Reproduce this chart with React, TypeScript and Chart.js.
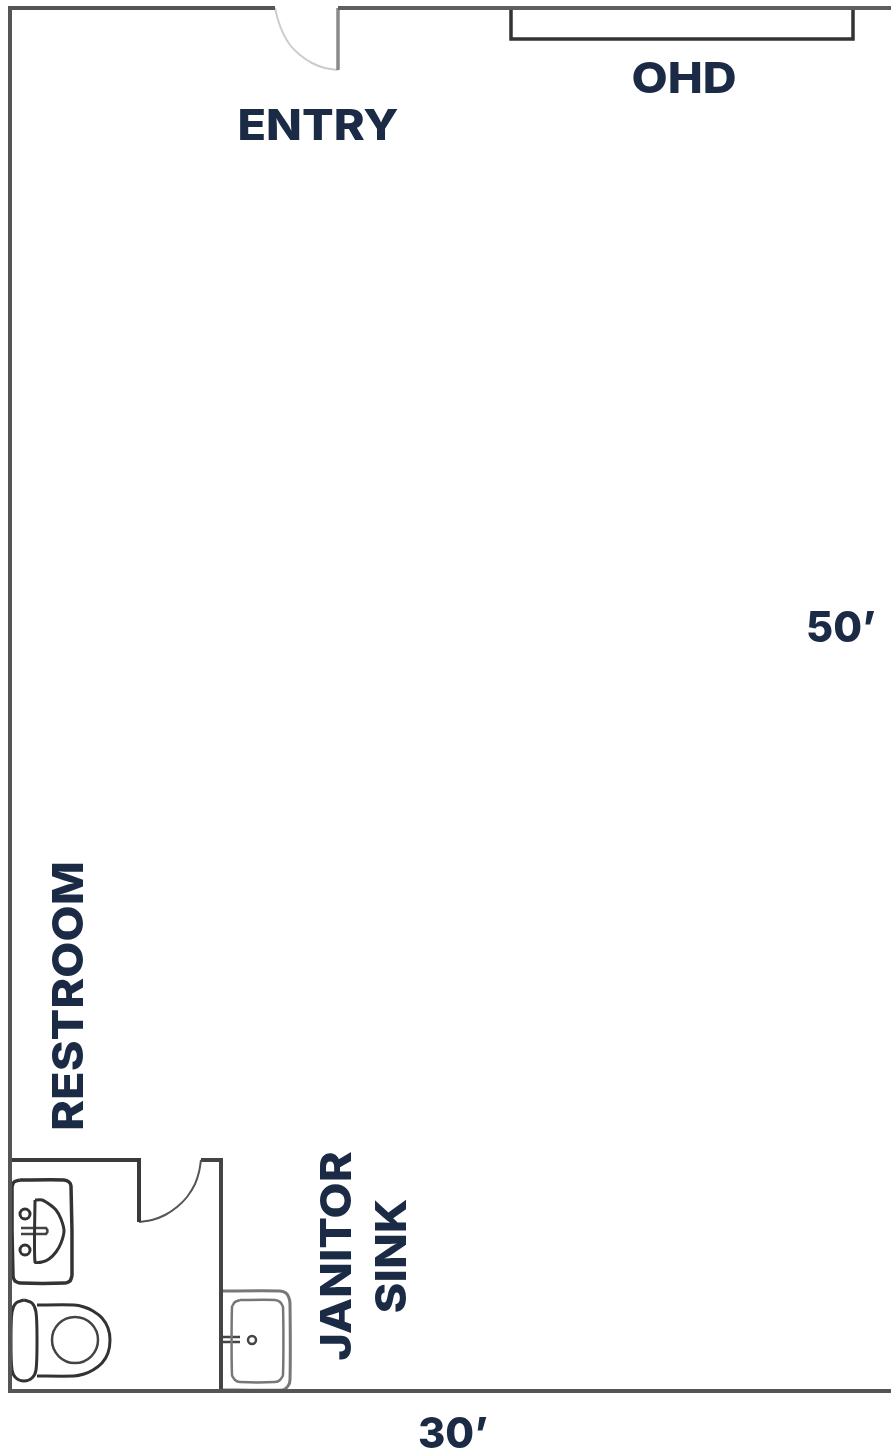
import React, { useEffect, useRef } from "react";
import { Chart, registerables } from "chart.js";

Chart.register(...registerables);

type P = [number, number];

// Floor-plan outlines (plan units = picture pixels)
const wallLeftBottom: P[] = [[275, 8], [10, 8], [10, 1391], [891, 1391]];
const wallTop: P[] = [[338, 8], [891, 8]];
const entryJamb: P[] = [[338, 70], [338, 8]];
const entrySwing: P[] = [[275, 8], [278, 20], [283, 33], [290, 45], [300, 55], [312, 63], [325, 68], [338, 70]];
const overheadDoor: P[] = [[511, 8], [511, 39], [853, 39], [853, 8]];
const restroomWall: P[] = [[10, 1160], [139, 1160], [139, 1222]];
const restroomSwing: P[] = [[139, 1222], [152, 1220], [165, 1215], [177, 1207], [187, 1197], [195, 1184], [199, 1172], [201, 1160]];
const restroomWallRight: P[] = [[201, 1160], [221, 1160], [221, 1391]];
const vanity: P[] = [[20, 1180], [64, 1180], [69, 1182], [71, 1186], [72, 1275], [70, 1281], [65, 1283], [20, 1283], [15, 1281], [13, 1276], [12, 1187], [14, 1182], [20, 1180]];
const basin: P[] = [[35, 1200], [35, 1262], [42, 1262], [49, 1259], [56, 1252], [61, 1243], [64, 1231], [61, 1219], [56, 1210], [49, 1204], [42, 1200], [35, 1200]];
const tapUpper: P[] = [[21, 1228], [46, 1228], [48, 1231]];
const tapLower: P[] = [[21, 1234], [46, 1234], [48, 1231]];
const tank: P[] = [[24, 1300], [32, 1303], [36, 1312], [37, 1340], [36, 1370], [32, 1378], [24, 1381], [16, 1378], [12, 1370], [11, 1340], [12, 1312], [16, 1303], [24, 1300]];
const bowl: P[] = [[37, 1305], [74, 1305], [84, 1307], [93, 1311], [102, 1318], [108, 1328], [110, 1340], [108, 1353], [102, 1363], [93, 1370], [84, 1374], [74, 1376], [37, 1376]];
const mopOuter: P[] = [[221, 1291], [280, 1291], [286, 1293], [289, 1298], [290, 1304], [290, 1380], [288, 1386], [283, 1390], [221, 1390]];
const mopInner: P[] = [[240, 1300], [275, 1300], [280, 1302], [283, 1307], [283, 1375], [280, 1380], [275, 1382], [240, 1382], [235, 1380], [232, 1375], [232, 1307], [235, 1302], [240, 1300]];
const mopTapUpper: P[] = [[221, 1337], [240, 1337]];
const mopTapLower: P[] = [[221, 1342], [240, 1342]];

// Small round fixtures
const vanityHandles: P[] = [[25, 1214], [25, 1250]];
const toiletSeat: P[] = [[75, 1340]];
const mopDrain: P[] = [[252, 1340]];

// Room labels
const labelTexts = ["ENTRY", "OHD", "50’", "30’", "RESTROOM", "JANITOR", "SINK"];
const labelX = [318, 684, 841, 453, 70, 338, 393];
const labelY = [127, 80, 629, 1435, 996, 1256, 1256];
const labelRot = [0, 0, 0, 0, -90, -90, -90];
const labelStretch = [1.09, 1.09, 0.97, 0.97, 1.09, 1.09, 1.09];

const INK = "#1b2a45";
const xy = (pts: P[]) => pts.map(([x, y]) => ({ x, y }));

const path = (pts: P[], color: string, width: number, tension = 0) => ({
  type: "scatter" as const,
  data: xy(pts),
  showLine: true,
  borderColor: color,
  borderWidth: width,
  pointRadius: 0,
  fill: false,
  tension,
});

const ring = (pts: P[], radius: number, color: string, width: number) => ({
  type: "scatter" as const,
  data: xy(pts),
  showLine: false,
  pointRadius: radius,
  pointStyle: "circle",
  pointBackgroundColor: "rgba(255,255,255,0)",
  pointBorderColor: color,
  pointBorderWidth: width,
});

const labelPlugin = {
  id: "planLabels",
  afterDatasetsDraw(chart: any) {
    const { ctx, scales } = chart;
    labelTexts.forEach((text, i) => {
      ctx.save();
      ctx.translate(scales.x.getPixelForValue(labelX[i]), scales.y.getPixelForValue(labelY[i]));
      ctx.rotate((labelRot[i] * Math.PI) / 180);
      ctx.scale(labelStretch[i], 1);
      ctx.font = "800 43px Inter, 'Open Sans', sans-serif";
      ctx.fillStyle = INK;
      ctx.textAlign = "center";
      ctx.textBaseline = "middle";
      ctx.fillText(text, 0, 0);
      ctx.restore();
    });
  },
};

export default function App() {
  const ref = useRef<HTMLCanvasElement>(null);
  useEffect(() => {
    document.body.style.margin = "0";
    document.body.style.background = "#fff";
    const chart = new Chart(ref.current!, {
      type: "scatter",
      data: {
        datasets: [
          path(wallLeftBottom, "#555555", 4),
          path(wallTop, "#5f5f5f", 4),
          path(entryJamb, "#8a8a8a", 3.5),
          path(entrySwing, "#cccccc", 2, 0.3),
          path(overheadDoor, "#333333", 3.5),
          path(restroomWall, "#3a3a3a", 4),
          path(restroomSwing, "#555555", 2, 0.3),
          path(restroomWallRight, "#444444", 4),
          path(vanity, "#333333", 3.5, 0.2),
          path(basin, "#333333", 3, 0.2),
          path(tapUpper, "#444444", 2.5),
          path(tapLower, "#444444", 2.5),
          path(tank, "#333333", 3, 0.3),
          path(bowl, "#333333", 3, 0.2),
          path(mopOuter, "#777777", 3, 0.2),
          path(mopInner, "#777777", 2.5, 0.2),
          path(mopTapUpper, "#444444", 2.5),
          path(mopTapLower, "#444444", 2.5),
          ring(vanityHandles, 5, "#333333", 3),
          ring(toiletSeat, 23, "#444444", 2.5),
          ring(mopDrain, 4, "#444444", 2.5),
        ] as any,
      },
      options: {
        animation: false,
        responsive: false,
        devicePixelRatio: 1,
        layout: { autoPadding: false, padding: 0 },
        plugins: { legend: { display: false }, tooltip: { enabled: false } },
        events: [],
        scales: {
          x: { type: "linear", min: 0, max: 891, display: false },
          y: { type: "linear", min: 0, max: 1454, reverse: true, display: false },
        },
      },
      plugins: [labelPlugin],
    });
    return () => chart.destroy();
  }, []);
  return (
    <canvas
      ref={ref}
      width={891}
      height={1454}
      style={{ display: "block", position: "absolute", left: 0, top: 0, width: 891, height: 1454 }}
    />
  );
}
